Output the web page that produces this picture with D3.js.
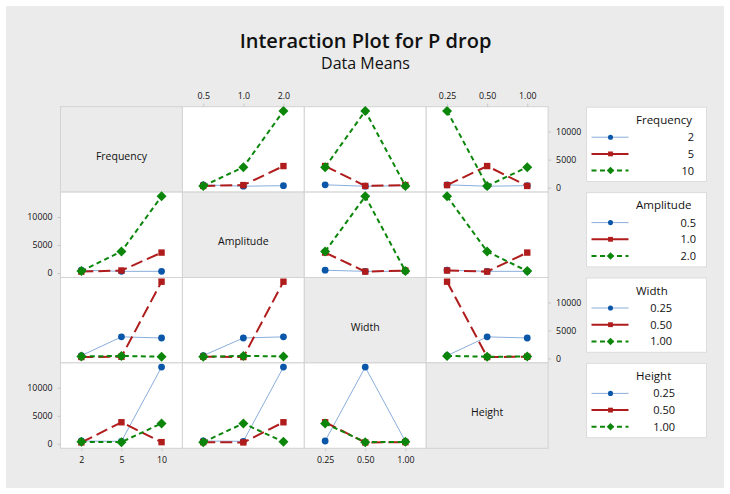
<!DOCTYPE html>
<html><head><meta charset="utf-8">
<script src="https://cdn.jsdelivr.net/npm/d3@7/dist/d3.min.js"></script>
<style>
html,body{margin:0;padding:0;background:#fff;}
text{font-family:"Open Sans","Noto Sans",sans-serif;fill:#111;}
</style></head>
<body><svg id="chart" width="730" height="494"></svg>
<script>
// ---- data ----
const factors = ["Frequency", "Amplitude", "Width", "Height"];
const freqLevels = ["2", "5", "10"];
const ampLevels = ["0.5", "1.0", "2.0"];
const widthLevels = ["0.25", "0.50", "1.00"];
const heightLevels = ["0.25", "0.50", "1.00"];
// L9 design (level index per run)
const runFreq   = [0, 0, 0, 1, 1, 1, 2, 2, 2];
const runAmp    = [0, 1, 2, 0, 1, 2, 0, 1, 2];
const runWidth  = [0, 1, 2, 1, 2, 0, 2, 0, 1];
const runHeight = [0, 1, 2, 2, 0, 1, 1, 2, 0];
const pDrop     = [500, 250, 350, 300, 450, 3850, 300, 3650, 13700];
const yTicks = [0, 5000, 10000];
const seriesColors = ["#0a56a8", "#b01c1c", "#0b860b"];

// ---- layout ----
const levelsOf = [freqLevels, ampLevels, widthLevels, heightLevels];
const runsOf = [runFreq, runAmp, runWidth, runHeight];
const svg = d3.select("#chart");
const W = 730, H = 494;
svg.append("rect").attr("x", 6).attr("y", 6).attr("width", W - 12).attr("height", H - 12).attr("fill", "#ebebeb");

svg.append("text").attr("x", 365.5).attr("y", 47.5).attr("text-anchor", "middle")
  .style("font-size", "20px").style("font-weight", 600).text("Interaction Plot for P drop");
svg.append("text").attr("x", 365.5).attr("y", 69).attr("text-anchor", "middle")
  .style("font-size", "16px").style("font-weight", 500).text("Data Means");

const gx = 60.5, gy = 106.7, cw = 121.9, ch = 85.4;
const y = d3.scaleLinear().domain([-800, 14450]).range([ch, 0]);
const xs = levelsOf.map(lv => d3.scalePoint().domain(lv).range([0, cw]).padding(0.52));

const lineStyles = [
  {w: 1, dash: null, lineColor: "#8aaedb"},
  {w: 2, dash: "12,5", lineColor: "#b01c1c"},
  {w: 2, dash: "5,3.5", lineColor: "#0b860b"}
];

function drawMarker(g, k, cx, cy, scale) {
  const s = scale || 1;
  if (k === 0) {
    g.append("circle").attr("cx", cx).attr("cy", cy).attr("r", 3.4 * s).attr("fill", seriesColors[0]);
  } else if (k === 1) {
    const a = 6.4 * s;
    g.append("rect").attr("x", cx - a / 2).attr("y", cy - a / 2).attr("width", a).attr("height", a).attr("fill", seriesColors[1]);
  } else {
    const a = 5 * s;
    g.append("path").attr("d", `M${cx},${cy - a}L${cx + a},${cy}L${cx},${cy + a}L${cx - a},${cy}Z`).attr("fill", seriesColors[2]);
  }
}

for (let i = 0; i < 4; i++) {
  for (let j = 0; j < 4; j++) {
    const g = svg.append("g").attr("transform", `translate(${gx + j * cw},${gy + i * ch})`);
    g.append("rect").attr("width", cw).attr("height", ch)
      .attr("fill", i === j ? "#ebebeb" : "#ffffff").attr("stroke", "#d3d3d3").attr("stroke-width", 1);
    if (i === j) {
      g.append("text").attr("x", cw / 2).attr("y", ch / 2 + 10.5).attr("text-anchor", "middle")
        .style("font-size", "10.5px").text(factors[i]);
      continue;
    }
    const xsc = xs[j];
    levelsOf[i].forEach((tl, k) => {
      const pts = levelsOf[j].map((xl, xi) => {
        const vals = pDrop.filter((v, r) => runsOf[i][r] === k && runsOf[j][r] === xi);
        return [xsc(xl), y(d3.mean(vals))];
      });
      const st = lineStyles[k];
      g.append("path").attr("d", d3.line()(pts)).attr("fill", "none")
        .attr("stroke", st.lineColor).attr("stroke-width", st.w)
        .attr("stroke-dasharray", st.dash);
      pts.forEach(p => drawMarker(g, k, p[0], p[1]));
    });
  }
}

// y axes: left for rows 1,3 ; right for rows 0,2
for (let i = 0; i < 4; i++) {
  const left = (i % 2 === 1);
  const g = svg.append("g").attr("transform", left ? `translate(${gx},${gy + i * ch})` : `translate(${gx + 4 * cw},${gy + i * ch})`);
  const ax = (left ? d3.axisLeft(y) : d3.axisRight(y)).tickValues(yTicks).tickSize(3).tickPadding(5).tickFormat(d3.format("d"));
  g.call(ax);
  g.select(".domain").remove();
  g.selectAll(".tick line").attr("stroke", "#c8c8c8");
  g.selectAll(".tick text").style("font-size", "8.8px").attr("fill", "#111").style("font-family", '"Open Sans",sans-serif');
}
// x axes: top for cols 1,3 ; bottom for cols 0,2
for (let j = 0; j < 4; j++) {
  const top = (j % 2 === 1);
  const g = svg.append("g").attr("transform", top ? `translate(${gx + j * cw},${gy})` : `translate(${gx + j * cw},${gy + 4 * ch})`);
  const ax = (top ? d3.axisTop(xs[j]) : d3.axisBottom(xs[j])).tickSize(3).tickPadding(5);
  g.call(ax);
  g.select(".domain").remove();
  g.selectAll(".tick line").attr("stroke", "#c8c8c8");
  g.selectAll(".tick text").style("font-size", "8.8px").attr("fill", "#111").style("font-family", '"Open Sans",sans-serif');
}

// legends
const legX = 586.5, legW = 120, legH = 74.3;
const labelRight = [694, 696, 672, 675];
for (let i = 0; i < 4; i++) {
  const ty = gy + i * ch + 0.5;
  const g = svg.append("g").attr("transform", `translate(${legX},${ty})`);
  g.append("rect").attr("width", legW).attr("height", legH).attr("fill", "#fff").attr("stroke", "#dcdcdc");
  g.append("text").attr("x", 49.5).attr("y", 16.5).style("font-size", "11.5px").text(factors[i]);
  levelsOf[i].forEach((lv, k) => {
    const ly = 30 + k * 16.7;
    const st = lineStyles[k];
    g.append("line").attr("x1", 5).attr("x2", 42).attr("y1", ly).attr("y2", ly)
      .attr("stroke", st.lineColor).attr("stroke-width", st.w).attr("stroke-dasharray", k === 2 ? "5,3.5" : null);
    drawMarker(g, k, 24, ly, 0.75);
    g.append("text").attr("x", labelRight[i] - legX).attr("y", ly + 4).attr("text-anchor", "end")
      .style("font-size", "11px").text(lv);
  });
}
</script></body></html>
